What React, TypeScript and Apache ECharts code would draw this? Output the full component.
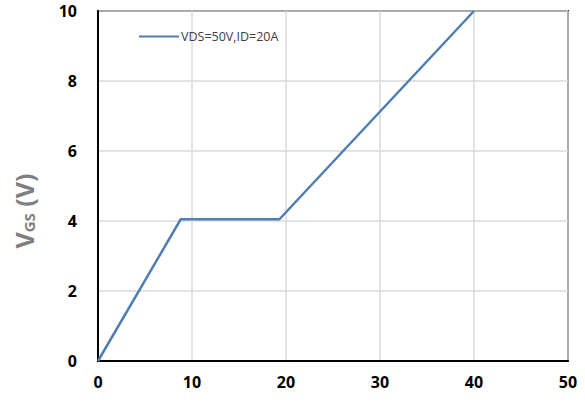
import React, { useEffect, useRef } from "react";
import * as echarts from "echarts";

const seriesName = "VDS=50V,ID=20A";
const qg = [0, 8.8, 19.3, 40];
const vgs = [0, 4.05, 4.05, 10];
const xTicks = [0, 10, 20, 30, 40, 50];
const yTicks = [0, 2, 4, 6, 8, 10];

export default function App() {
  const ref = useRef<HTMLDivElement>(null);
  useEffect(() => {
    if (!ref.current) return;
    const chart = echarts.init(ref.current, null, { renderer: "svg" });
    const font = "'Open Sans', 'Liberation Sans', sans-serif";
    chart.setOption({
      animation: false,
      backgroundColor: "#ffffff",
      grid: { left: 98, right: 17, top: 11, bottom: 41, show: true, borderColor: "#262626", borderWidth: 2 },
      legend: {
        show: true,
        left: 134,
        top: 25,
        itemWidth: 40,
        itemHeight: 14,
        itemGap: 4,
        icon: "path://M0,6 L40,6 L40,8 L0,8 Z",
        textStyle: { color: "#404040", fontSize: 12.5, fontFamily: font, padding: [0, 0, 0, -3] },
        data: [seriesName],
      },
      xAxis: {
        type: "value",
        min: xTicks[0],
        max: xTicks[xTicks.length - 1],
        interval: 10,
        axisLine: { show: true, lineStyle: { color: "#000", width: 2 } },
        axisTick: { show: false },
        splitLine: { show: true, lineStyle: { color: "#d9d9d9", width: 1.5 } },
        axisLabel: { color: "#000", fontWeight: "bold", fontSize: 16, fontFamily: font, margin: 13 },
      },
      yAxis: {
        type: "value",
        min: yTicks[0],
        max: yTicks[yTicks.length - 1],
        interval: 2,
        axisLine: { show: true, lineStyle: { color: "#000", width: 2 } },
        axisTick: { show: false },
        splitLine: { show: true, lineStyle: { color: "#d9d9d9", width: 1.5 } },
        axisLabel: { color: "#000", fontWeight: "bold", fontSize: 16, fontFamily: font, margin: 21 },
      },
      graphic: [
        {
          type: "text",
          x: 24,
          y: 211,
          rotation: Math.PI / 2,
          style: {
            text: "{a|V}{b|GS}{a| (V)}",
            align: "center",
            verticalAlign: "middle",
            rich: {
              a: { fontSize: 25, fontWeight: "bold", fill: "#7f7f7f", fontFamily: font, verticalAlign: "bottom" },
              b: { fontSize: 15, fontWeight: "bold", fill: "#7f7f7f", fontFamily: font, verticalAlign: "bottom" },
            },
          },
        },
      ],
      series: [
        {
          name: seriesName,
          type: "line",
          data: qg.map((x, i) => [x, vgs[i]]),
          symbol: "none",
          lineStyle: { color: "#4f7eb4", width: 2.5 },
          itemStyle: { color: "#4f7eb4" },
        },
      ],
    });
    return () => chart.dispose();
  }, []);
  return <div ref={ref} style={{ width: 585, height: 402, position: "absolute", left: 0, top: 0 }} />;
}
